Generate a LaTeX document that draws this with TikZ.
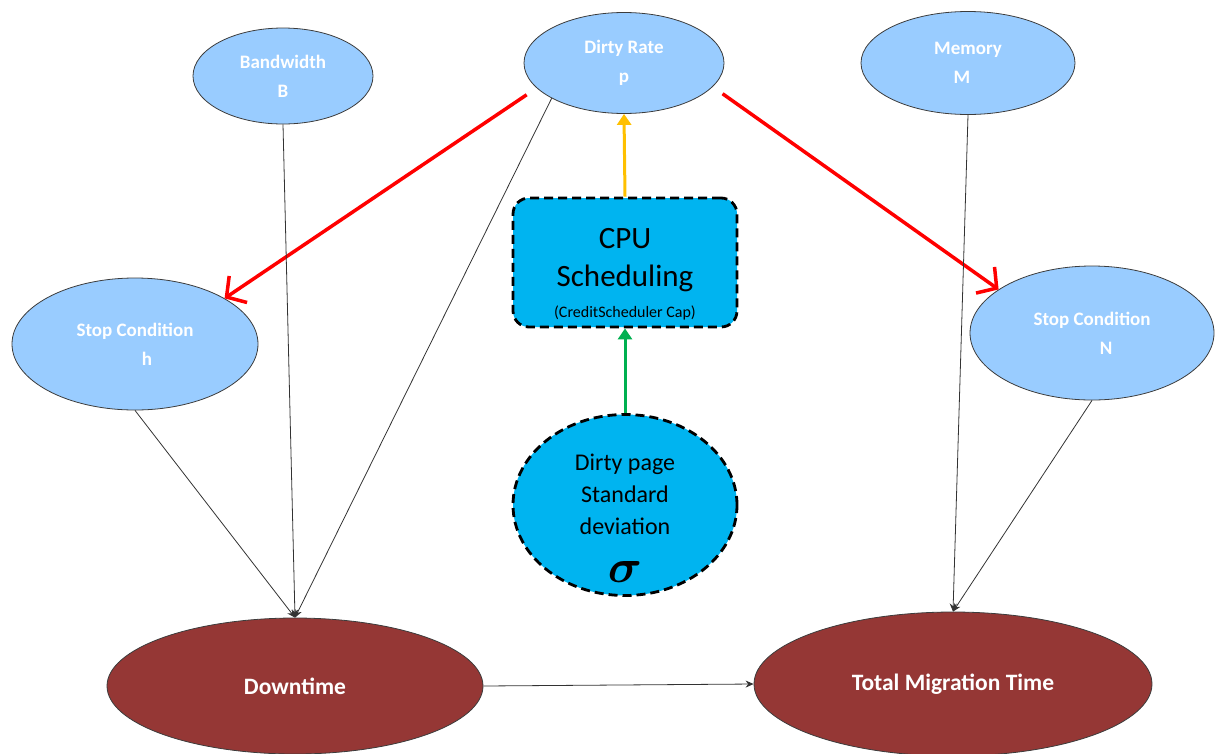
\documentclass[tikz,border=0pt]{standalone}
\usepackage{fontspec}
\usepackage{bm}
\setmainfont{Carlito}
\usetikzlibrary{shapes.geometric,arrows.meta}
\definecolor{paleblue}{RGB}{153,204,255}
\definecolor{skycyan}{RGB}{0,180,240}
\definecolor{brick}{RGB}{149,55,53}
\definecolor{amber}{RGB}{255,192,0}
\definecolor{leaf}{RGB}{0,176,80}
\definecolor{edgegray}{RGB}{60,60,60}

\begin{document}
\begin{tikzpicture}[x=1pt,y=-1pt,
  param/.style={ellipse, draw=edgegray, line width=0.8pt, fill=paleblue,
    text=white, font=\fontsize{19}{29}\selectfont\bfseries, align=center, inner sep=0pt},
  outcome/.style={ellipse, draw=edgegray, line width=0.8pt, fill=brick,
    text=white, font=\fontsize{23.5}{26}\selectfont\bfseries, inner sep=0pt},
  dashbox/.style={draw=black, line width=2.8pt, dash pattern=on 9pt off 5pt,
    fill=skycyan, align=center, inner sep=0pt},
  thinarrow/.style={-{Stealth[length=8pt,width=7pt]}, line width=0.8pt, draw=black!80},
  redarrow/.style={-{Straight Barb[length=14pt,width=32pt]}, line width=3.5pt, draw=red,
    shorten <=12pt},
  feedarrow/.style={-{Triangle[length=11pt,width=14pt]}, line width=3pt}
]
\useasboundingbox (0,0) rectangle (1215,753);

% parameter nodes
\node[param, minimum width=180pt, minimum height=96pt] (bw) at (283,76) {Bandwidth\\B};
\node[param, minimum width=200pt, minimum height=101pt] (dr) at (624,63) {Dirty Rate\\p};
\node[param, minimum width=214pt, minimum height=103pt] (mem) at (968,63) {Memory\\M\hspace*{12pt}};
\node[param, minimum width=246pt, minimum height=132pt] (sh) at (135,344) {Stop Condition\\\hspace*{24pt}h};
\node[param, minimum width=244pt, minimum height=134pt] (sn) at (1092,333) {Stop Condition\\\hspace*{28pt}N};

% scheduling box and deviation circle
\node[dashbox, rounded corners=16pt, minimum width=224pt, minimum height=129pt,
  font=\fontsize{31}{38}\selectfont] (cpu) at (625,262.5)
  {\rule{0pt}{44pt}CPU\\Scheduling\\[-7pt]{\fontsize{16}{14}\selectfont(CreditScheduler Cap)}};
\node[dashbox, ellipse, inner ysep=-30pt, minimum width=224pt, minimum height=181pt,
  font=\fontsize{24}{32}\selectfont] (sd) at (625,505)
  {\rule{0pt}{42pt}Dirty page\\Standard\\deviation\\[16pt]{\fontsize{24}{28}\selectfont\scalebox{1.9}{$\bm{\sigma}$}}};

% outcome nodes
\node[outcome, minimum width=376pt, minimum height=136pt] (down) at (295,686) {Downtime};
\node[outcome, minimum width=398pt, minimum height=144pt] (tot) at (953,684) {Total Migration Time};

% influence of the dirty rate on the stop conditions
\draw[redarrow] (dr.196) -- (sh.27);
\draw[redarrow] (dr.345) -- (sn.155);

% scheduling chain
\draw[feedarrow, draw=amber, fill=amber] (cpu.north) -- (dr.south);
\draw[feedarrow, draw=leaf, fill=leaf] (sd.north) -- (cpu.south);

% dependencies of the outcomes
\draw[thinarrow] (bw.south) -- (down.north);
\draw[thinarrow] (dr.206) -- (down.north);
\draw[thinarrow] (sh.south) -- (down.north);
\draw[thinarrow] (mem.south) -- (tot.north);
\draw[thinarrow] (sn.south) -- (tot.north);
\draw[thinarrow] (down.east) -- (tot.west);
\end{tikzpicture}
\end{document}
